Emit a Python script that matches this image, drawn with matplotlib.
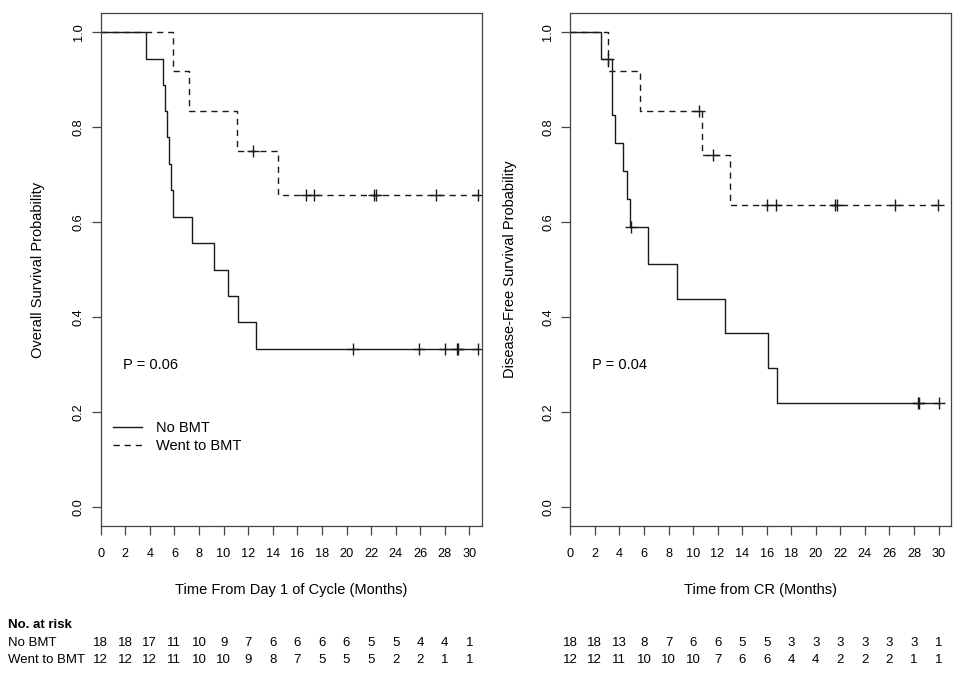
import numpy as np
import matplotlib
matplotlib.use("Agg")
import matplotlib.pyplot as plt
from matplotlib.lines import Line2D
from matplotlib.ticker import FormatStrFormatter
from matplotlib import transforms

plt.rcParams['font.family'] = ['Liberation Sans', 'DejaVu Sans']

# overall survival
os_nobmt_times = [3.66, 5.09, 5.23, 5.42, 5.56, 5.70, 5.91, 7.40, 9.24, 10.33, 11.20, 12.61]
os_nobmt_surv = [0.944, 0.889, 0.833, 0.778, 0.722, 0.667, 0.611, 0.556, 0.500, 0.444, 0.389, 0.333]
os_nobmt_cens = [20.55, 25.9, 28.01, 28.97, 29.05, 30.72]
os_bmt_times = [5.91, 7.21, 11.11, 14.45]
os_bmt_surv = [0.917, 0.833, 0.750, 0.656]
os_bmt_cens = [12.37, 16.7, 17.35, 22.24, 22.4, 27.26, 30.68]

# disease-free survival, right panel
dfs_nobmt_times = [2.46, 3.37, 3.42, 3.68, 4.31, 4.59, 4.85, 6.34, 8.73, 12.58, 16.10, 16.86]
dfs_nobmt_surv = [0.944, 0.885, 0.826, 0.767, 0.708, 0.649, 0.590, 0.512, 0.439, 0.366, 0.293, 0.220]
dfs_nobmt_cens = [3.04, 4.94, 28.29, 28.37, 30.0]
dfs_bmt_times = [3.04, 5.67, 10.73, 13.04]
dfs_bmt_surv = [0.917, 0.833, 0.741, 0.635]
dfs_bmt_cens = [10.46, 11.63, 16.05, 16.72, 21.58, 21.74, 26.48, 29.97]

risk_times = list(range(0, 31, 2))
os_risk_nobmt = [18, 18, 17, 11, 10, 9, 7, 6, 6, 6, 6, 5, 5, 4, 4, 1]
os_risk_bmt = [12, 12, 12, 11, 10, 10, 9, 8, 7, 5, 5, 5, 2, 2, 1, 1]
dfs_risk_nobmt = [18, 18, 13, 8, 7, 6, 6, 5, 5, 3, 3, 3, 3, 3, 3, 1]
dfs_risk_bmt = [12, 12, 11, 10, 10, 10, 7, 6, 6, 4, 4, 2, 2, 2, 1, 1]

group_labels = ['No BMT', 'Went to BMT']
line_color = '#1a1a1a'
frame_color = '#444444'
dash = (0, (4.5, 3.5))


def km_curve(ax, times, surv, cens, ls):
    t = [0] + list(times) + [max(cens)]
    s = [1.0] + list(surv) + [surv[-1]]
    ax.step(t, s, where='post', color=line_color, lw=1.0, linestyle=ls)
    idx = np.searchsorted(times, cens, side='right')
    cy = np.concatenate([[1.0], surv])[idx]
    ax.plot(cens, cy, linestyle='none', marker='+', ms=8, mew=1.0, color=line_color)


def style_axes(ax, ylabel, xlabel, ylab_x):
    ax.set_xlim(0, 31)
    ax.set_ylim(-0.04, 1.04)
    ax.set_xticks(risk_times)
    ax.set_yticks([0, 0.2, 0.4, 0.6, 0.8, 1.0])
    ax.yaxis.set_major_formatter(FormatStrFormatter('%.1f'))
    ax.tick_params(length=6.5, width=0.9, color=frame_color, labelsize=9.2)
    ax.tick_params(axis='x', pad=9.5)
    ax.tick_params(axis='y', pad=5, labelrotation=90)
    for lbl in ax.get_yticklabels():
        lbl.set_va('center')
    for sp in ax.spines.values():
        sp.set_color(frame_color)
        sp.set_linewidth(0.9)
    ax.set_xlabel(xlabel, fontsize=10.5)
    ax.xaxis.set_label_coords(0.5, -0.112)
    ax.set_ylabel(ylabel, fontsize=10.5)
    ax.yaxis.set_label_coords(ylab_x, 0.5)


fig = plt.figure(figsize=(9.6, 6.82), dpi=100)
ax1 = fig.add_axes([0.1049, 0.2287, 0.3969, 0.7522])
ax2 = fig.add_axes([0.5941, 0.2287, 0.3963, 0.7522])

km_curve(ax1, os_nobmt_times, os_nobmt_surv, os_nobmt_cens, '-')
km_curve(ax1, os_bmt_times, os_bmt_surv, os_bmt_cens, dash)
km_curve(ax2, dfs_nobmt_times, dfs_nobmt_surv, dfs_nobmt_cens, '-')
km_curve(ax2, dfs_bmt_times, dfs_bmt_surv, dfs_bmt_cens, dash)

style_axes(ax1, 'Overall Survival Probability', 'Time From Day 1 of Cycle (Months)', -0.146)
style_axes(ax2, 'Disease-Free Survival Probability', 'Time from CR (Months)', -0.140)

ax1.text(1.8, 0.30, 'P = 0.06', fontsize=10.5, va='center')
ax2.text(1.74, 0.30, 'P = 0.04', fontsize=10.5, va='center')

handles = [Line2D([], [], color=line_color, lw=1.0, linestyle='-'),
           Line2D([], [], color=line_color, lw=1.0, linestyle=dash)]
ax1.legend(handles, group_labels, loc='upper left', bbox_to_anchor=(0.033, 0.205),
           frameon=False, fontsize=10.5, handlelength=2.0, handletextpad=0.9,
           labelspacing=0.3, borderpad=0, borderaxespad=0)

# number at risk table
fig.text(0.0085, 0.0836, 'No. at risk', fontsize=9.5, fontweight='bold', va='center')
row_y = [0.0572, 0.0323]
for lab, y in zip(group_labels, row_y):
    fig.text(0.0085, y, lab, fontsize=9.5, va='center')

for ax, rows in [(ax1, [os_risk_nobmt, os_risk_bmt]), (ax2, [dfs_risk_nobmt, dfs_risk_bmt])]:
    tr = transforms.blended_transform_factory(ax.transData, fig.transFigure)
    for vals, y in zip(rows, row_y):
        for t, v in zip(risk_times, vals):
            ax.text(t, y, str(v), transform=tr, fontsize=9.5, ha='center', va='center')

fig.savefig('out.png', dpi=100)
